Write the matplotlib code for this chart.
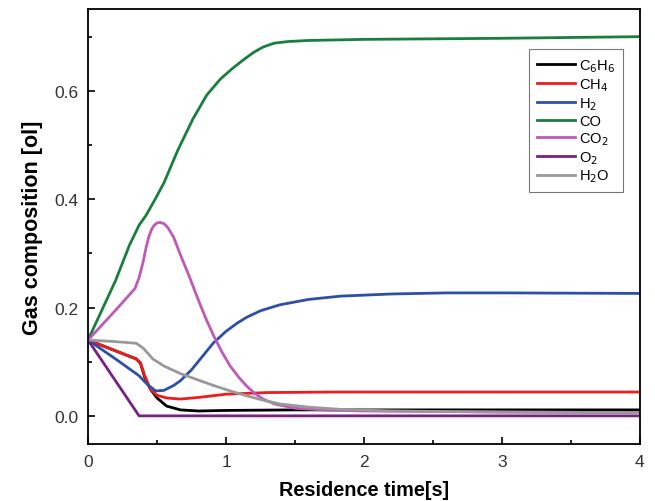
import matplotlib.pyplot as plt
from matplotlib.ticker import MultipleLocator

plt.rcParams['font.family'] = ['Liberation Sans', 'DejaVu Sans']

# residence time [s] and gas composition
t_co = [0, 0.1, 0.2, 0.3, 0.37, 0.42, 0.48, 0.55, 0.65, 0.76, 0.86, 0.96, 1.05, 1.13, 1.2, 1.27, 1.35,
        1.45, 1.6, 2.0, 3.0, 4.0]
co = [0.14, 0.195, 0.25, 0.315, 0.352, 0.37, 0.397, 0.43, 0.49, 0.548, 0.592, 0.622, 0.642, 0.658, 0.671,
      0.681, 0.688, 0.691, 0.693, 0.695, 0.697, 0.70]

t_co2 = [0, 0.2, 0.34, 0.37, 0.4, 0.42, 0.44, 0.46, 0.48, 0.5, 0.52, 0.55, 0.58, 0.62, 0.67, 0.73, 0.79,
         0.85, 0.91, 0.97, 1.03, 1.09, 1.15, 1.21, 1.27, 1.35, 1.5, 1.7, 2.0, 3.0, 4.0]
co2 = [0.14, 0.195, 0.235, 0.255, 0.285, 0.31, 0.33, 0.344, 0.352, 0.356, 0.357, 0.355, 0.347, 0.33,
       0.297, 0.26, 0.22, 0.182, 0.148, 0.118, 0.092, 0.072, 0.055, 0.041, 0.031, 0.022, 0.014, 0.011,
       0.009, 0.007, 0.006]

t_h2 = [0, 0.2, 0.37, 0.43, 0.49, 0.55, 0.62, 0.67, 0.75, 0.83, 0.91, 1.0, 1.08, 1.15, 1.25, 1.39, 1.6,
        1.83, 2.2, 2.6, 3.0, 4.0]
h2 = [0.14, 0.105, 0.074, 0.058, 0.046, 0.047, 0.056, 0.065, 0.085, 0.11, 0.135, 0.156, 0.171, 0.182,
      0.194, 0.205, 0.215, 0.221, 0.225, 0.227, 0.227, 0.226]

t_ch4 = [0, 0.2, 0.35, 0.38, 0.41, 0.45, 0.5, 0.57, 0.67, 0.8, 1.0, 1.3, 1.8, 2.5, 4.0]
ch4 = [0.14, 0.12, 0.105, 0.098, 0.075, 0.05, 0.038, 0.033, 0.031, 0.034, 0.04, 0.043, 0.044, 0.044, 0.044]

t_c6h6 = [0, 0.2, 0.35, 0.38, 0.41, 0.45, 0.5, 0.57, 0.67, 0.8, 1.0, 1.5, 2.0, 3.0, 4.0]
c6h6 = [0.14, 0.12, 0.105, 0.097, 0.072, 0.05, 0.033, 0.018, 0.011, 0.009, 0.01, 0.011, 0.011, 0.011, 0.011]

t_o2 = [0, 0.37, 4.0]
o2 = [0.14, 0.0, 0.0]

t_h2o = [0, 0.2, 0.35, 0.4, 0.47, 0.55, 0.67, 0.8, 0.91, 1.03, 1.15, 1.27, 1.39, 1.6, 1.83, 2.2, 3.0, 4.0]
h2o = [0.14, 0.137, 0.134, 0.125, 0.105, 0.092, 0.078, 0.066, 0.056, 0.046, 0.037, 0.029, 0.022, 0.016,
       0.012, 0.009, 0.007, 0.006]

fig = plt.figure(figsize=(6.55, 5.02), dpi=100)
ax = fig.add_axes([0.1344, 0.1135, 0.8426, 0.8665])

lw = 2.0
ax.plot(t_c6h6, c6h6, color='black', lw=lw, label='C$_6$H$_6$')
ax.plot(t_ch4, ch4, color='#ee1c1c', lw=lw, label='CH$_4$')
ax.plot(t_h2, h2, color='#2e4fa8', lw=lw, label='H$_2$')
ax.plot(t_co, co, color='#1a7f3c', lw=lw, label='CO')
ax.plot(t_co2, co2, color='#c05ab8', lw=lw, label='CO$_2$')
ax.plot(t_o2, o2, color='#7a1f86', lw=lw, label='O$_2$')
ax.plot(t_h2o, h2o, color='#999999', lw=lw, label='H$_2$O')

ax.set_xlim(0, 4)
ax.set_ylim(-0.052, 0.751)
ax.xaxis.set_major_locator(MultipleLocator(1))
ax.xaxis.set_minor_locator(MultipleLocator(0.5))
ax.yaxis.set_major_locator(MultipleLocator(0.2))
ax.yaxis.set_minor_locator(MultipleLocator(0.1))
ax.xaxis.set_major_formatter(plt.FuncFormatter(lambda v, p: '%d' % v))
ax.yaxis.set_major_formatter(plt.FuncFormatter(lambda v, p: '%.1f' % v))
ax.tick_params(which='both', direction='in', labelsize=12.5, width=1.2, labelcolor='#333333')
ax.tick_params(which='major', length=5, pad=7)
ax.tick_params(which='minor', length=3)
for s in ax.spines.values():
    s.set_linewidth(1.3)

ax.set_xlabel('Residence time[s]', fontsize=14.3, fontweight='bold', labelpad=8)
ax.set_ylabel('Gas composition [ol]', fontsize=15.5, fontweight='bold', labelpad=8)

leg = ax.legend(loc='upper right', bbox_to_anchor=(0.97, 0.908), fontsize=10.5, frameon=True,
                fancybox=False, edgecolor='#555555', handlelength=2.6, handletextpad=0.3,
                labelspacing=0.15, borderpad=0.55, borderaxespad=0)
leg.get_frame().set_linewidth(0.8)

fig.savefig('out.png', dpi=100)
